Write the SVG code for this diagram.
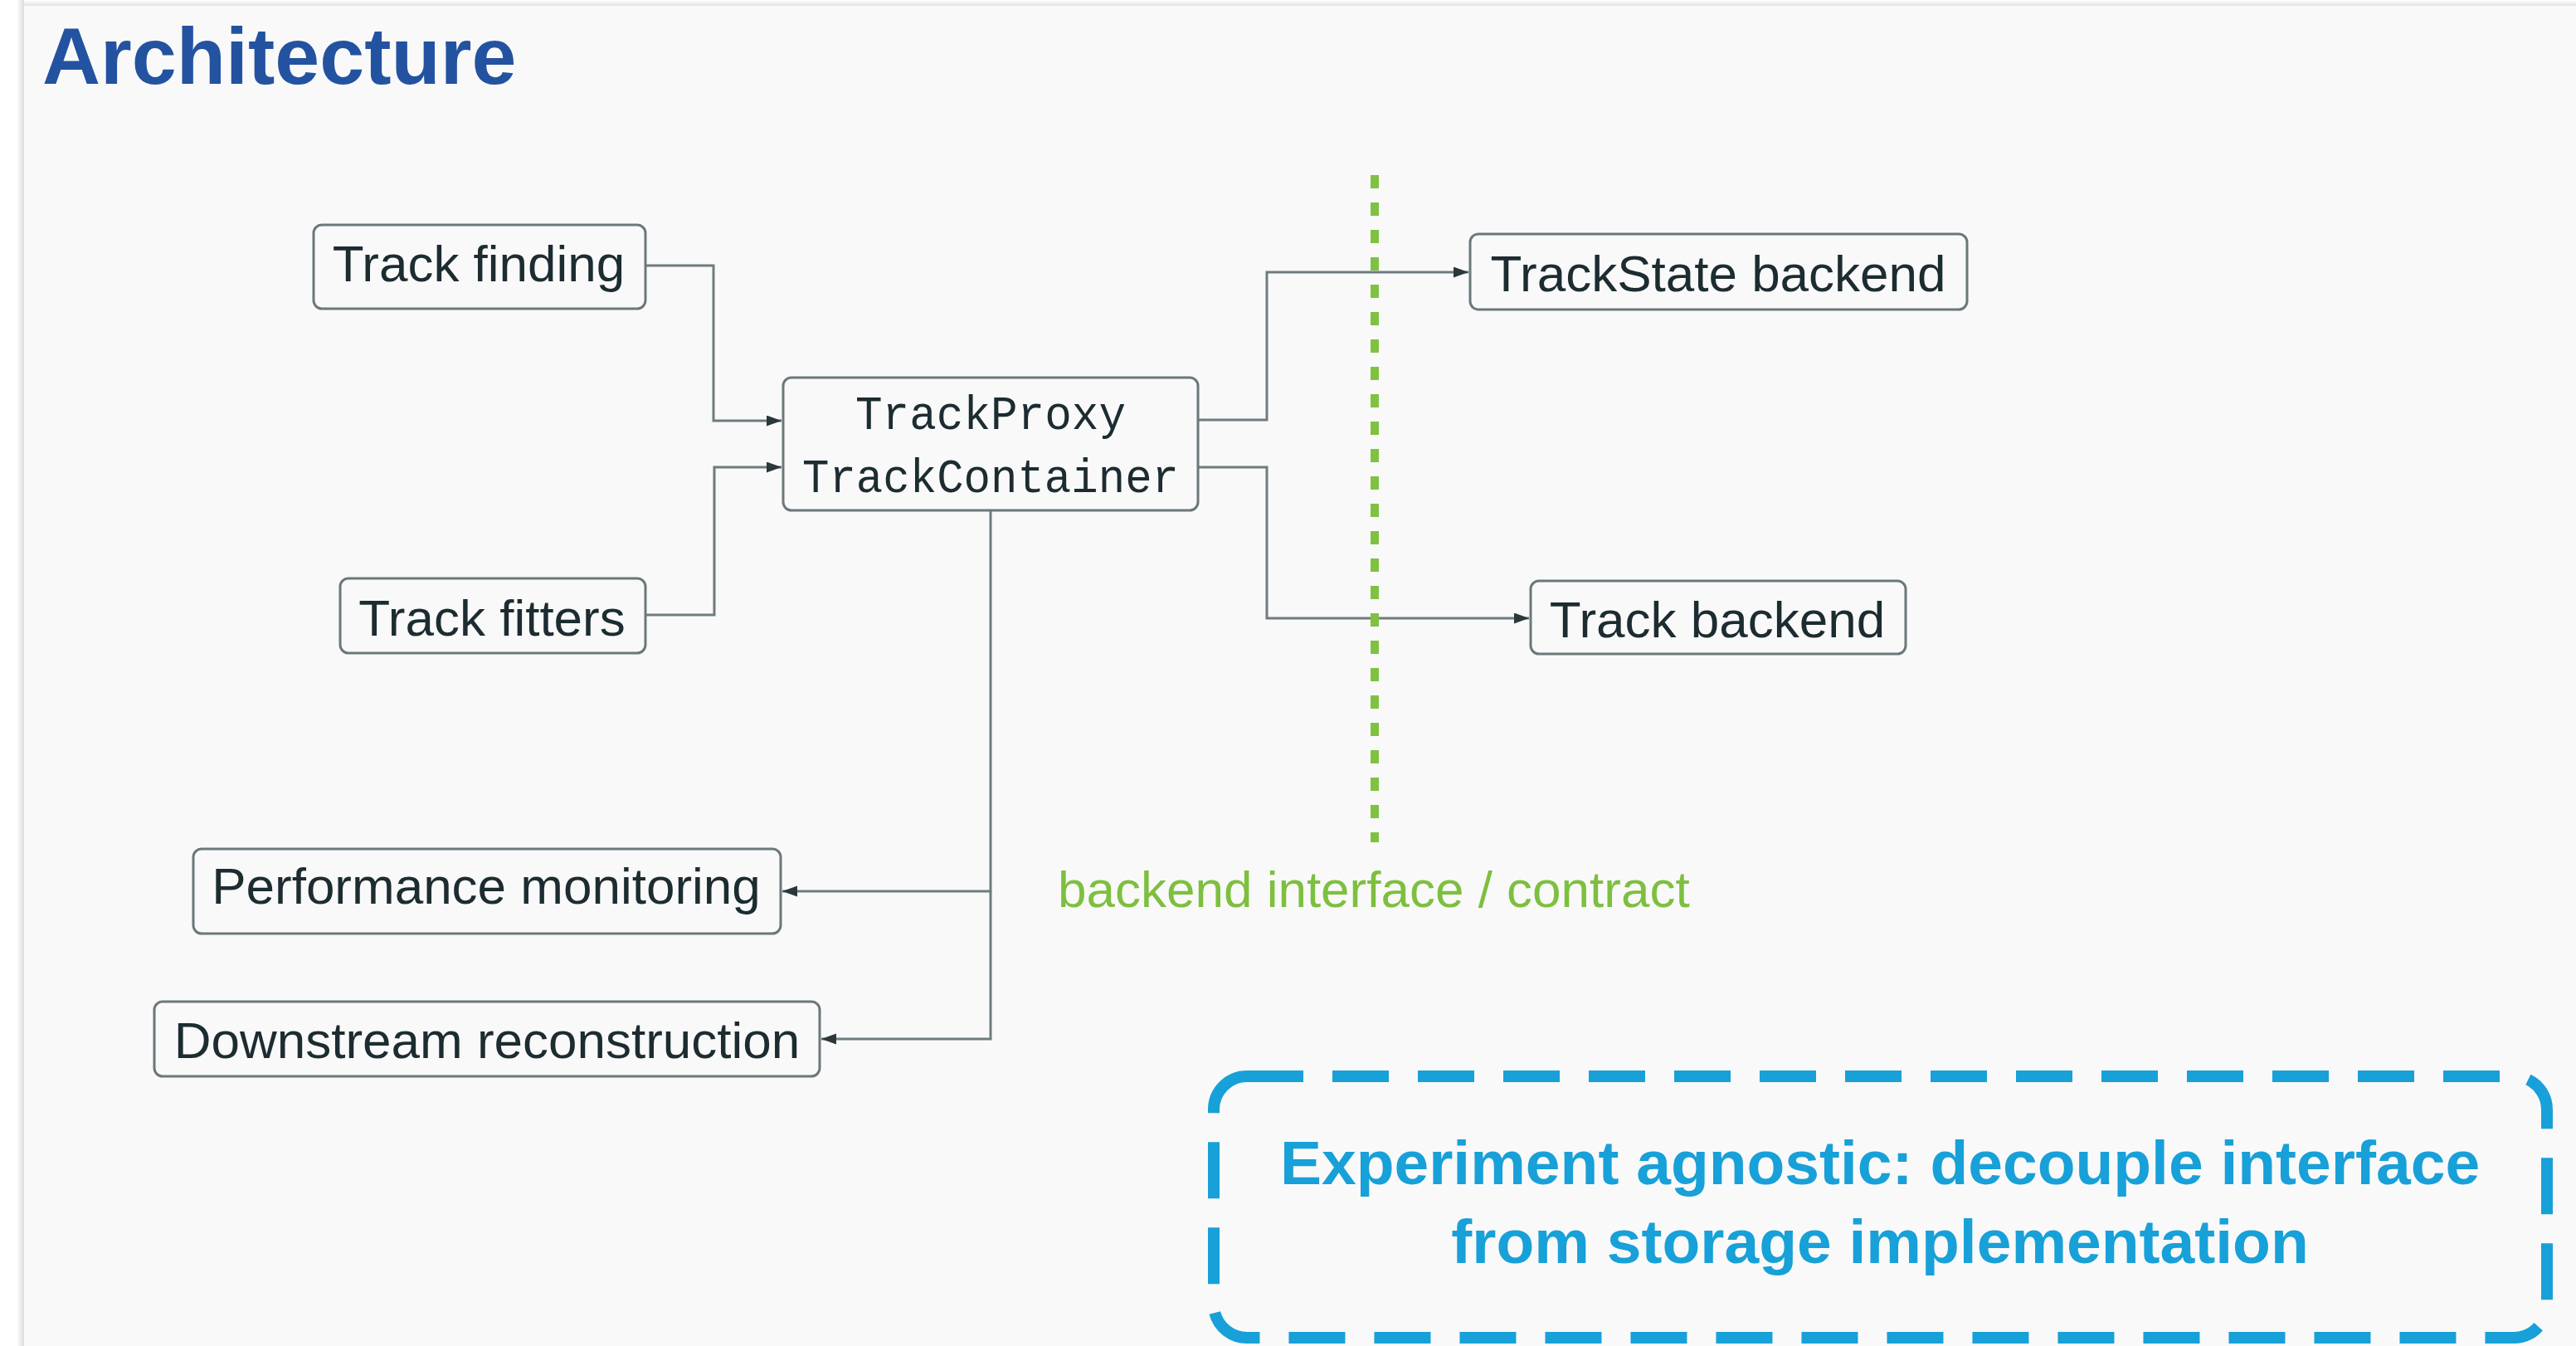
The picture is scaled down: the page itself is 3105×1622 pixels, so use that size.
<svg xmlns="http://www.w3.org/2000/svg" width="3105" height="1622" viewBox="0 0 3105 1622">
  <defs>
    <style>
      .box { fill: #f9f9f9; stroke: #6b787b; stroke-width: 3; }
      .lbl { font-family: "Liberation Sans", Arial, sans-serif; font-size: 62px; fill: #1c2c31; text-anchor: middle; }
      .mono { font-family: "Liberation Mono", "Courier New", monospace; font-size: 58px; fill: #1c2c31; text-anchor: middle; }
      .conn { fill: none; stroke: #6f7c7f; stroke-width: 3; }
    </style>
    <marker id="arrow" markerUnits="userSpaceOnUse" markerWidth="20" markerHeight="14" refX="18" refY="6.5" orient="auto">
      <path d="M0,0 L18,6.5 L0,13 z" fill="#2a383c"/>
    </marker>
    <linearGradient id="shadowL" x1="0" y1="0" x2="1" y2="0">
      <stop offset="0" stop-color="#ffffff"/>
      <stop offset="1" stop-color="#dcdcdc"/>
    </linearGradient>
    <linearGradient id="shadowT" x1="0" y1="0" x2="0" y2="1">
      <stop offset="0" stop-color="#ffffff"/>
      <stop offset="1" stop-color="#e2e2e2"/>
    </linearGradient>
  </defs>

  <!-- page -->
  <rect x="0" y="0" width="3105" height="1622" fill="#ffffff"/>
  <rect x="20" y="0" width="9" height="1622" fill="url(#shadowL)"/>
  <rect x="29" y="0" width="3076" height="7" fill="url(#shadowT)"/>
  <rect x="29" y="7" width="3076" height="1615" fill="#f9f9f9"/>

  <text id="title" x="51" y="101" font-family="'Liberation Sans', Arial, sans-serif" font-weight="bold" font-size="97" fill="#2353a0">Architecture</text>

  <!-- connectors -->
  <g id="connectors">
    <path class="conn" d="M778,320 H860 V507 H942" marker-end="url(#arrow)"/>
    <path class="conn" d="M778,741 H861 V563 H942" marker-end="url(#arrow)"/>
    <path class="conn" d="M1444,506 H1527 V328 H1770" marker-end="url(#arrow)"/>
    <path class="conn" d="M1444,563 H1527 V745 H1843" marker-end="url(#arrow)"/>
    <path class="conn" d="M1194,615 V1074 H943" marker-end="url(#arrow)"/>
    <path class="conn" d="M1194,1074 V1252 H990" marker-end="url(#arrow)"/>
  </g>

  <!-- backend interface line -->
  <g id="interface-line">
    <line x1="1657" y1="211" x2="1657" y2="1015" stroke="#80c142" stroke-width="10" stroke-dasharray="16 17"/>
    <text x="1275" y="1093" font-family="'Liberation Sans', Arial, sans-serif" font-size="62" fill="#7dbf3f">backend interface / contract</text>
  </g>

  <g id="track-finding">
    <rect class="box" x="378" y="271" width="400" height="101" rx="10"/>
    <text class="lbl" x="577" y="339">Track finding</text>
  </g>

  <g id="track-fitters">
    <rect class="box" x="410" y="697" width="368" height="90" rx="10"/>
    <text class="lbl" x="593" y="766">Track fitters</text>
  </g>

  <g id="track-proxy">
    <rect class="box" x="944" y="455" width="500" height="160" rx="10"/>
    <text class="mono" x="1194" y="517" textLength="326" lengthAdjust="spacingAndGlyphs">TrackProxy</text>
    <text class="mono" x="1194" y="593" textLength="454" lengthAdjust="spacingAndGlyphs">TrackContainer</text>
  </g>

  <g id="trackstate-backend">
    <rect class="box" x="1772" y="282" width="599" height="91" rx="10"/>
    <text class="lbl" x="2071" y="351">TrackState backend</text>
  </g>

  <g id="track-backend">
    <rect class="box" x="1845" y="700" width="452" height="88" rx="10"/>
    <text class="lbl" x="2070" y="768">Track backend</text>
  </g>

  <g id="performance-monitoring">
    <rect class="box" x="233" y="1023" width="708" height="102" rx="10"/>
    <text class="lbl" x="586" y="1089">Performance monitoring</text>
  </g>

  <g id="downstream-reconstruction">
    <rect class="box" x="186" y="1207" width="802" height="90" rx="10"/>
    <text class="lbl" x="587" y="1275">Downstream reconstruction</text>
  </g>

  <g id="note">
    <rect x="1463" y="1297" width="1607" height="315" rx="40" fill="none" stroke="#18a0d8" stroke-width="14" stroke-dasharray="68 35"/>
    <text x="2266" y="1427" font-family="'Liberation Sans', Arial, sans-serif" font-weight="bold" font-size="75" fill="#18a0d8" text-anchor="middle">Experiment agnostic: decouple interface</text>
    <text x="2266" y="1522" font-family="'Liberation Sans', Arial, sans-serif" font-weight="bold" font-size="75" fill="#18a0d8" text-anchor="middle">from storage implementation</text>
  </g>
</svg>
